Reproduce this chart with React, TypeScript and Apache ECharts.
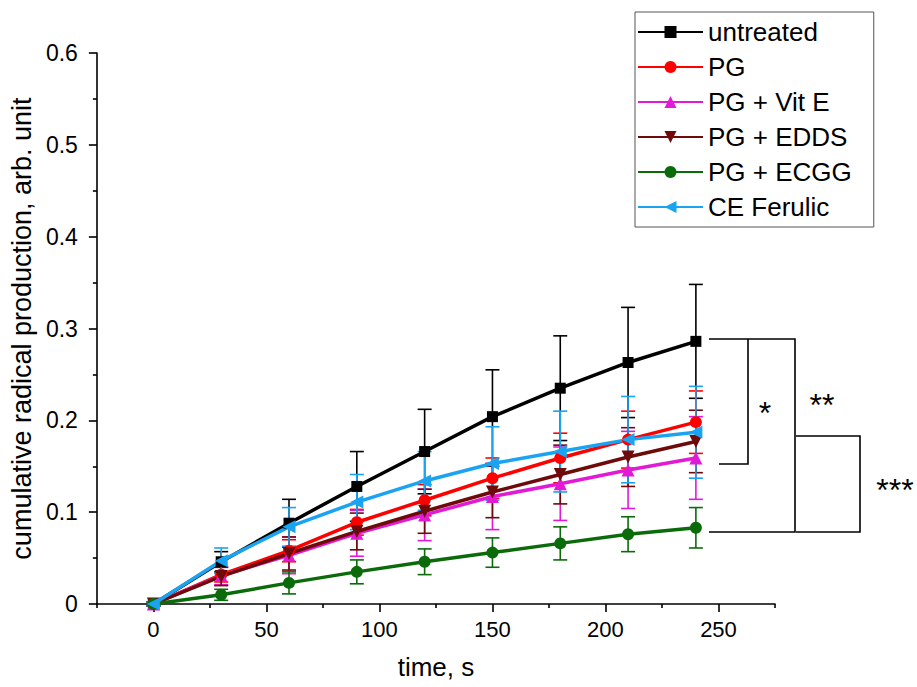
import React, { useEffect, useRef } from "react";
import * as echarts from "echarts";

// ---- data ----
const timeS = [0, 30, 60, 90, 120, 150, 180, 210, 240];

const untreated = [0, 0.046, 0.088, 0.128, 0.166, 0.204, 0.235, 0.263, 0.286];
const untreatedErr = [0.002, 0.011, 0.026, 0.038, 0.046, 0.051, 0.057, 0.06, 0.062];

const pg = [0, 0.032, 0.058, 0.089, 0.113, 0.137, 0.159, 0.179, 0.198];
const pgErr = [0.002, 0.008, 0.012, 0.014, 0.017, 0.022, 0.027, 0.031, 0.034];

const pgVitE = [0, 0.031, 0.053, 0.077, 0.097, 0.117, 0.131, 0.146, 0.159];
const pgVitEErr = [0.002, 0.01, 0.02, 0.025, 0.028, 0.036, 0.04, 0.042, 0.045];

const pgEdds = [0, 0.03, 0.055, 0.079, 0.101, 0.122, 0.141, 0.16, 0.177];
const pgEddsErr = [0.002, 0.01, 0.018, 0.02, 0.024, 0.028, 0.032, 0.032, 0.034];

const pgEcgg = [0, 0.01, 0.023, 0.035, 0.046, 0.056, 0.066, 0.076, 0.083];
const pgEcggErr = [0.002, 0.006, 0.012, 0.013, 0.014, 0.016, 0.018, 0.019, 0.022];

const ceFerulic = [0, 0.047, 0.084, 0.111, 0.134, 0.153, 0.166, 0.179, 0.187];
const ceFerulicErr = [0.002, 0.014, 0.021, 0.03, 0.032, 0.04, 0.044, 0.047, 0.05];

const xMajorTicks = [0, 50, 100, 150, 200, 250];
const xMinorTicks = [-25, 25, 75, 125, 175, 225, 275];
const yMajorTicks = [0, 0.1, 0.2, 0.3, 0.4, 0.5, 0.6];
const yMinorTicks = [0.05, 0.15, 0.25, 0.35, 0.45, 0.55];

const FONT = 'Arial, "Liberation Sans", sans-serif';

type Def = {
  name: string;
  values: number[];
  errs: number[];
  color: string;
  symbol: string;
  symbolSize: number;
  symbolRotate?: number;
};

const defs: Def[] = [
  { name: "untreated", values: untreated, errs: untreatedErr, color: "#000000", symbol: "rect", symbolSize: 11 },
  { name: "PG", values: pg, errs: pgErr, color: "#ff0000", symbol: "circle", symbolSize: 12 },
  { name: "PG + Vit E", values: pgVitE, errs: pgVitEErr, color: "#e21ad6", symbol: "triangle", symbolSize: 13 },
  { name: "PG + EDDS", values: pgEdds, errs: pgEddsErr, color: "#6e0a0a", symbol: "triangle", symbolSize: 13, symbolRotate: 180 },
  { name: "PG + ECGG", values: pgEcgg, errs: pgEcggErr, color: "#0b6b0b", symbol: "circle", symbolSize: 12 },
  { name: "CE Ferulic", values: ceFerulic, errs: ceFerulicErr, color: "#1aa3f0", symbol: "triangle", symbolSize: 13, symbolRotate: 90 },
];

export default function App() {
  const ref = useRef<HTMLDivElement>(null);

  useEffect(() => {
    if (!ref.current) return;
    const chart = echarts.init(ref.current, null, { renderer: "svg" });

    const series: any[] = [];
    defs.forEach((d) => {
      const color = d.color;
      series.push({
        name: d.name + " error",
        type: "custom",
        silent: true,
        data: timeS.map((t, i) => [t, d.values[i] - d.errs[i], d.values[i] + d.errs[i]]),
        encode: { x: 0, y: [1, 2] },
        renderItem: (params: any, api: any) => {
          const x = api.value(0);
          const lo = api.coord([x, api.value(1)]);
          const hi = api.coord([x, api.value(2)]);
          const hw = 7;
          const style = { stroke: color, lineWidth: 1.6, fill: "none" };
          return {
            type: "group",
            children: [
              { type: "line", shape: { x1: lo[0], y1: lo[1], x2: hi[0], y2: hi[1] }, style },
              { type: "line", shape: { x1: hi[0] - hw, y1: hi[1], x2: hi[0] + hw, y2: hi[1] }, style },
              { type: "line", shape: { x1: lo[0] - hw, y1: lo[1], x2: lo[0] + hw, y2: lo[1] }, style },
            ],
          };
        },
      });
      series.push({
        name: d.name,
        type: "line",
        data: timeS.map((t, i) => [t, d.values[i]]),
        color,
        symbol: d.symbol,
        symbolSize: d.symbolSize,
        symbolRotate: d.symbolRotate || 0,
        showSymbol: true,
        lineStyle: { color, width: 3.5 },
        itemStyle: { color, borderWidth: 0 },
        emphasis: { disabled: true },
      });
    });

    const axisLine = { show: true, onZero: false, lineStyle: { color: "#000", width: 1.6 } };

    chart.setOption({
      animation: false,
      backgroundColor: "#ffffff",
      textStyle: { fontFamily: FONT },
      grid: { left: 93, right: 142, top: 53, bottom: 83, containLabel: false },
      legend: {
        data: defs.map((d) => d.name),
        orient: "vertical",
        left: 635,
        top: 12,
        padding: [5, 22, 5, 2],
        itemWidth: 65,
        itemHeight: 15,
        itemGap: 5,
        borderColor: "#555",
        borderWidth: 1,
        backgroundColor: "#fff",
        selectedMode: false,
        textStyle: { fontFamily: FONT, fontSize: 26, color: "#000", lineHeight: 30 },
      },
      xAxis: [
        {
          type: "value",
          position: "bottom",
          min: -25,
          max: 275,
          name: "time, s",
          nameLocation: "middle",
          nameGap: 50,
          nameTextStyle: { fontFamily: FONT, fontSize: 26, color: "#000" },
          axisLine,
          splitLine: { show: false },
          axisTick: { show: true, inside: false, length: 8, customValues: xMajorTicks, lineStyle: { color: "#000", width: 1.6 } },
          axisLabel: { customValues: xMajorTicks, fontFamily: FONT, fontSize: 22, color: "#000", margin: 14, formatter: (v: number) => String(v) },
        },
        {
          type: "value",
          position: "bottom",
          min: -25,
          max: 275,
          axisLine: { show: false, onZero: false },
          splitLine: { show: false },
          axisTick: { show: true, inside: false, length: 4, customValues: xMinorTicks, lineStyle: { color: "#000", width: 1.6 } },
          axisLabel: { show: false },
        },
      ],
      yAxis: [
        {
          type: "value",
          position: "left",
          min: 0,
          max: 0.6,
          name: "cumulative radical production, arb. unit",
          nameLocation: "middle",
          nameRotate: 90,
          nameGap: 57,
          nameTextStyle: { fontFamily: FONT, fontSize: 27, color: "#000" },
          axisLine,
          splitLine: { show: false },
          axisTick: { show: true, inside: false, length: 8, customValues: yMajorTicks, lineStyle: { color: "#000", width: 1.6 } },
          axisLabel: {
            customValues: yMajorTicks,
            fontFamily: FONT,
            fontSize: 23,
            color: "#000",
            margin: 19,
            formatter: (v: number) => (v === 0 ? "0" : v.toFixed(1)),
          },
        },
        {
          type: "value",
          position: "left",
          min: 0,
          max: 0.6,
          axisLine: { show: false, onZero: false },
          splitLine: { show: false },
          axisTick: { show: true, inside: false, length: 4, customValues: yMinorTicks, lineStyle: { color: "#000", width: 1.6 } },
          axisLabel: { show: false },
        },
      ],
      series,
      graphic: [
        {
          type: "polyline",
          silent: true,
          shape: { points: [[709, 339], [795, 339], [795, 532], [709, 532]] },
          style: { stroke: "#000", lineWidth: 1.6, fill: "none" },
        },
        {
          type: "polyline",
          silent: true,
          shape: { points: [[748, 339], [748, 464], [719, 464]] },
          style: { stroke: "#000", lineWidth: 1.6, fill: "none" },
        },
        {
          type: "polyline",
          silent: true,
          shape: { points: [[796, 436], [860, 436], [860, 532], [796, 532]] },
          style: { stroke: "#000", lineWidth: 1.6, fill: "none" },
        },
        { type: "text", silent: true, x: 765, y: 413, style: { text: "*", fontFamily: FONT, fontSize: 32, fill: "#000", textAlign: "center", textVerticalAlign: "middle" } },
        { type: "text", silent: true, x: 822, y: 405, style: { text: "**", fontFamily: FONT, fontSize: 32, fill: "#000", textAlign: "center", textVerticalAlign: "middle" } },
        { type: "text", silent: true, x: 895, y: 490, style: { text: "***", fontFamily: FONT, fontSize: 32, fill: "#000", textAlign: "center", textVerticalAlign: "middle" } },
      ],
    });

    return () => chart.dispose();
  }, []);

  return (
    <div
      ref={ref}
      style={{ position: "fixed", left: 0, top: 0, width: 917, height: 687, background: "#fff" }}
    />
  );
}
